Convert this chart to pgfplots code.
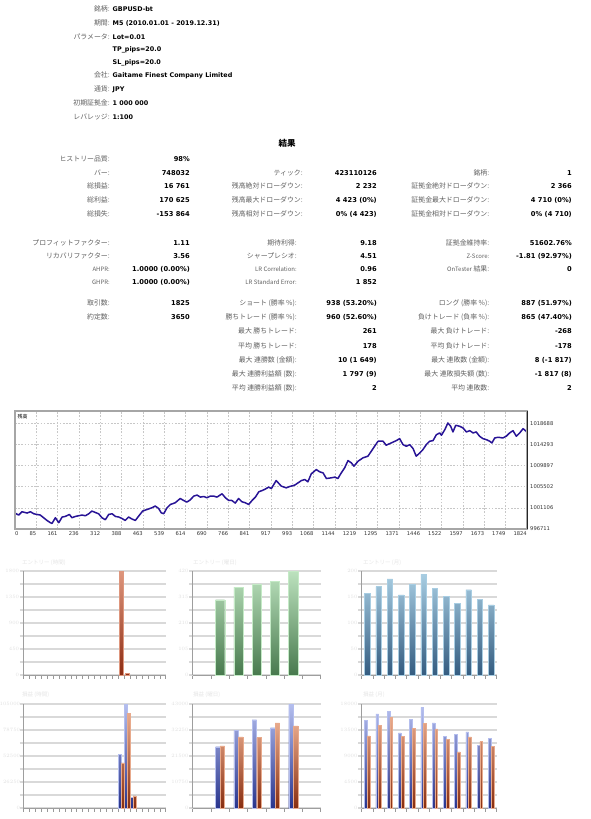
\documentclass[border=0pt]{standalone}
\usepackage{fontspec}
\setmainfont{DejaVu Sans}
\newfontfamily\jp{Noto Sans CJK JP}
\usepackage{pgfplots}
\pgfplotsset{compat=1.18}
\definecolor{labc}{gray}{0.38}
\definecolor{eq}{RGB}{40,20,150}
\definecolor{r1t}{RGB}{222,150,125}
\definecolor{r1b}{RGB}{140,45,20}
\definecolor{g1t}{RGB}{188,226,190}
\definecolor{g1b}{RGB}{72,122,78}
\definecolor{g1d}{RGB}{196,234,198}
\definecolor{s1t}{RGB}{168,205,226}
\definecolor{s1b}{RGB}{52,92,128}
\definecolor{b2t}{RGB}{180,190,238}
\definecolor{b2b}{RGB}{40,52,140}
\definecolor{o2t}{RGB}{232,170,140}
\definecolor{o2b}{RGB}{135,45,15}
\tikzset{
 lab/.style={anchor=east, inner sep=0pt, text height=5pt, text depth=1.4pt, font=\jp\fontsize{6.9}{8}\selectfont, text=labc},
 val/.style={anchor=east, inner sep=0pt, text height=5pt, text depth=1.4pt, font=\bfseries\fontsize{6.7}{8}\selectfont, text=black},
 hval/.style={val, anchor=west, font=\bfseries\fontsize{6.4}{8}\selectfont},
 ctitle/.style={anchor=west, inner sep=0pt, font=\jp\fontsize{5.5}{6}\selectfont, text=black!10},
}
\newcommand\lt[1]{{\fontsize{6}{7}\selectfont #1}}
\pgfplotsset{
 bc/.style={
  scale only axis, height=104pt, ymin=0, clip=false,
  axis x line*=bottom, axis y line*=left,
  axis line style={draw=black!38, line width=0.6pt},
  ymajorgrids, yminorgrids,
  major grid style={draw=black!15, line width=1.7pt},
  minor grid style={draw=black!15, line width=1.7pt},
  tick align=outside, major tick length=3.5pt, minor tick length=3.5pt,
  ytick style={draw=black!15, line width=1.7pt},
  xtick style={draw=black!40, line width=0.5pt},
  xticklabels={},
  tick label style={font=\fontsize{3.8}{4.5}\selectfont, text=black!12},
  yticklabel style={inner sep=0.5pt, /pgf/number format/fixed, /pgf/number format/precision=0, /pgf/number format/1000 sep={}},
  scaled y ticks=false,
 },
}
\begin{document}
\begin{tikzpicture}[x=1pt,y=-1pt]
\path[use as bounding box, fill=white] (0,0) rectangle (590,819);
% ---------- header ----------
\node[lab] at (110,9.5) {銘柄:};          \node[hval] at (112.5,9.5) {GBPUSD-bt};
\node[lab] at (110,23.8) {期間:};         \node[hval] at (112.5,23.8) {M5 (2010.01.01 - 2019.12.31)};
\node[lab] at (110,37.2) {パラメータ:};   \node[hval] at (112.5,37.2) {Lot=0.01};
                                          \node[hval] at (112.5,50) {TP\_pips=20.0};
                                          \node[hval] at (112.5,62.5) {SL\_pips=20.0};
\node[lab] at (110,75.5) {会社:};         \node[hval] at (112.5,75.5) {Gaitame Finest Company Limited};
\node[lab] at (110,89.3) {通貨:};         \node[hval] at (112.5,89.3) {JPY};
\node[lab] at (110,103.3) {初期証拠金:};  \node[hval] at (112.5,103.3) {1 000 000};
\node[lab] at (110,117.3) {レバレッジ:};  \node[hval] at (112.5,117.3) {1:100};
\node[font=\jp\bfseries\fontsize{8.5}{10}\selectfont, inner sep=0pt] at (287,143) {結果};
% ---------- stats ----------
\node[lab] at (110,160) {ヒストリー品質:}; \node[val] at (190,160) {98\%};
\node[lab] at (110,173.5) {バー:}; \node[val] at (190,173.5) {748032};
\node[lab] at (303,173.5) {ティック:}; \node[val] at (377,173.5) {423110126};
\node[lab] at (489.5,173.5) {銘柄:}; \node[val] at (572,173.5) {1};
\node[lab] at (110,187) {総損益:}; \node[val] at (190,187) {16 761};
\node[lab] at (303,187) {残高絶対ドローダウン:}; \node[val] at (377,187) {2 232};
\node[lab] at (489.5,187) {証拠金絶対ドローダウン:}; \node[val] at (572,187) {2 366};
\node[lab] at (110,200.7) {総利益:}; \node[val] at (190,200.7) {170 625};
\node[lab] at (303,200.7) {残高最大ドローダウン:}; \node[val] at (377,200.7) {4 423 (0\%)};
\node[lab] at (489.5,200.7) {証拠金最大ドローダウン:}; \node[val] at (572,200.7) {4 710 (0\%)};
\node[lab] at (110,214.7) {総損失:}; \node[val] at (190,214.7) {-153 864};
\node[lab] at (303,214.7) {残高相対ドローダウン:}; \node[val] at (377,214.7) {0\% (4 423)};
\node[lab] at (489.5,214.7) {証拠金相対ドローダウン:}; \node[val] at (572,214.7) {0\% (4 710)};
%
\node[lab] at (110,243.5) {プロフィットファクター:}; \node[val] at (190,243.5) {1.11};
\node[lab] at (297,243.5) {期待利得:}; \node[val] at (377,243.5) {9.18};
\node[lab] at (489.5,243.5) {証拠金維持率:}; \node[val] at (572,243.5) {51602.76\%};
\node[lab] at (110,256.5) {リカバリファクター:}; \node[val] at (190,256.5) {3.56};
\node[lab] at (297,256.5) {シャープレシオ:}; \node[val] at (377,256.5) {4.51};
\node[lab] at (489.5,256.5) {\lt{Z-Score:}}; \node[val] at (572,256.5) {-1.81 (92.97\%)};
\node[lab] at (110,269.5) {\lt{AHPR:}}; \node[val] at (190,269.5) {1.0000 (0.00\%)};
\node[lab] at (297,269.5) {\lt{LR Correlation:}}; \node[val] at (377,269.5) {0.96};
\node[lab] at (489.5,269.5) {\lt{OnTester} 結果:}; \node[val] at (572,269.5) {0};
\node[lab] at (110,282.5) {\lt{GHPR:}}; \node[val] at (190,282.5) {1.0000 (0.00\%)};
\node[lab] at (297,282.5) {\lt{LR Standard Error:}}; \node[val] at (377,282.5) {1 852};
%
\node[lab] at (110,304) {取引数:}; \node[val] at (190,304) {1825};
\node[lab] at (297,304) {ショート (勝率 \%):}; \node[val] at (377,304) {938 (53.20\%)};
\node[lab] at (489.5,304) {ロング (勝率 \%):}; \node[val] at (572,304) {887 (51.97\%)};
\node[lab] at (110,318) {約定数:}; \node[val] at (190,318) {3650};
\node[lab] at (297,318) {勝ちトレード (勝率 \%):}; \node[val] at (377,318) {960 (52.60\%)};
\node[lab] at (489.5,318) {負けトレード (負率 \%):}; \node[val] at (572,318) {865 (47.40\%)};
\node[lab] at (297,332) {最大 勝ちトレード:}; \node[val] at (377,332) {261};
\node[lab] at (489.5,332) {最大 負けトレード:}; \node[val] at (572,332) {-268};
\node[lab] at (297,346.5) {平均 勝ちトレード:}; \node[val] at (377,346.5) {178};
\node[lab] at (489.5,346.5) {平均 負けトレード:}; \node[val] at (572,346.5) {-178};
\node[lab] at (297,360.5) {最大 連勝数 (金額):}; \node[val] at (377,360.5) {10 (1 649)};
\node[lab] at (489.5,360.5) {最大 連敗数 (金額):}; \node[val] at (572,360.5) {8 (-1 817)};
\node[lab] at (297,374.5) {最大 連勝利益額 (数):}; \node[val] at (377,374.5) {1 797 (9)};
\node[lab] at (489.5,374.5) {最大 連敗損失額 (数):}; \node[val] at (572,374.5) {-1 817 (8)};
\node[lab] at (297,388.5) {平均 連勝利益額 (数):}; \node[val] at (377,388.5) {2};
\node[lab] at (489.5,388.5) {平均 連敗数:}; \node[val] at (572,388.5) {2};
% ---------- equity chart ----------
\begin{axis}[
  at={(15pt,-411pt)}, anchor=north west,
  scale only axis, width=512pt, height=118pt,
  xmin=0, xmax=1825, ymin=996711, ymax=1021240,
  clip=false, axis line style={draw=none},
  scaled y ticks=false, scaled x ticks=false,
  grid=major, major grid style={dash pattern=on 1.6pt off 1.6pt, draw=black!22, line width=0.5pt},
  major tick length=0pt,
  xtick={76.04,152.08,228.13,304.17,380.21,456.25,532.29,608.33,684.38,760.42,836.46,912.5,988.54,1064.58,1140.63,1216.67,1292.71,1368.75,1444.79,1520.83,1596.88,1672.92,1748.96,1825},
  xticklabels={85,161,236,312,388,463,539,614,690,766,841,917,993,1068,1144,1219,1295,1371,1446,1522,1597,1673,1749,1824},
  extra x ticks={0}, extra x tick labels={0},
  extra x tick style={xticklabel style={anchor=north west}},
  xticklabel style={anchor=north east, font=\fontsize{5.2}{6}\selectfont, text=black!80, inner sep=0pt, yshift=-2.5pt},
  ytick={996711,1001106,1005502,1009897,1014293,1018688},
  yticklabels={996711,1001106,1005502,1009897,1014293,1018688},
  yticklabel pos=right,
  yticklabel style={anchor=west, font=\fontsize{5.2}{6}\selectfont, text=black!80, inner sep=0pt, xshift=3pt},
]
\addplot[eq, line width=1.5pt, line join=round] coordinates {
(0,1000000) (13,999614) (25,1000298) (43,1000028) (55,1000298) (67,999883) (78,999738) (90,999614) (102,999054) (114,998494) (126,998017) (132,997872) (144,999054) (156,998017) (168,999199) (179,999323) (194,999738) (203,999054) (215,999323) (227,999468) (239,999614) (251,999468) (263,999883) (274,1000443) (286,1000153) (298,999883) (310,999054) (322,998639) (334,999738) (346,999883) (358,999323) (370,999199) (381,998909) (393,998494) (405,999199) (417,998784) (429,998494) (441,999406) (455,1000443) (471,1000775) (488,1001127) (500,1001480) (512,1000982) (521,1000091) (530,999883) (542,1001127) (554,1001811) (571,1002164) (589,1003055) (601,1002641) (613,1002309) (625,1002786) (637,1003553) (649,1003760) (661,1003346) (673,1003470) (684,1003200) (696,1003553) (708,1003553) (720,1003346) (738,1004030) (750,1003200) (762,1002641) (773,1002641) (785,1002102) (797,1003055) (809,1002371) (821,1002164) (833,1001811) (845,1002641) (857,1003346) (869,1004444) (881,1004714) (892,1005004) (904,1005419) (914,1005129) (931,1006787) (949,1005626) (967,1005274) (979,1005543) (997,1005834) (1009,1006310) (1021,1006787) (1033,1006995) (1044,1006518) (1056,1008176) (1074,1009068) (1086,1008591) (1098,1008384) (1110,1007202) (1127,1007347) (1140,1007492) (1151,1007202) (1163,1008384) (1175,1009420) (1187,1010934) (1199,1010457) (1208,1009773) (1223,1010809) (1240,1011494) (1258,1011846) (1270,1012883) (1282,1013919) (1294,1014956) (1312,1014956) (1323,1014127) (1341,1014604) (1359,1015080) (1371,1015495) (1383,1014251) (1395,1013919) (1407,1014251) (1419,1013422) (1430,1011846) (1443,1012530) (1454,1013214) (1466,1014251) (1478,1014956) (1490,1015080) (1502,1016324) (1514,1016677) (1520,1016200) (1532,1017361) (1543,1018750) (1553,1018066) (1561,1016884) (1571,1018273) (1585,1018066) (1597,1017714) (1609,1016884) (1621,1017154) (1633,1016677) (1644,1016884) (1656,1015993) (1668,1015495) (1680,1015288) (1692,1014956) (1700,1014604) (1710,1015640) (1722,1015785) (1739,1015640) (1751,1015993) (1763,1016677) (1775,1017154) (1787,1015993) (1799,1016677) (1811,1017568) (1822,1017029) (1825,1016761)
};
\draw[black!35, line width=1.3pt] (rel axis cs:0,0) rectangle (rel axis cs:1,1);
\draw[black!85, line width=0.8pt] (rel axis cs:1,0) -- (rel axis cs:1,1);
\node[anchor=north west, inner sep=0pt, font=\jp\fontsize{5}{6}\selectfont] at (rel axis cs:0,1) [xshift=2.5pt, yshift=-3pt] {残高};
\end{axis}
% ---------- bar charts: titles ----------
\node[ctitle] at (22,563) {エントリー (時間)};
\node[ctitle] at (193,563) {エントリー (曜日)};
\node[ctitle] at (363,563) {エントリー (月)};
\node[ctitle] at (22,695) {損益 (時間)};
\node[ctitle] at (193,695) {損益 (曜日)};
\node[ctitle] at (363,695) {損益 (月)};
% chart 1
\begin{axis}[bc, at={(23.3pt,-571pt)}, anchor=north west, width=142.4pt,
  xmin=-0.5, xmax=23.5, xtick={-0.5,0.5,...,23.5}, ymax=1800, ytick={0,450,...,1800}, minor ytick={225,675,...,1575}]
\addplot[ybar, bar width=0.57, bar shift=0pt, draw=r1t, top color=r1t, bottom color=r1b] coordinates {(16,1800) (17,25)};
\end{axis}
% chart 2
\begin{axis}[bc, at={(192.7pt,-571pt)}, anchor=north west, width=128pt,
  xmin=-0.5, xmax=6.5, xtick={-0.5,0.5,...,6.5}, ymax=420, ytick={0,105,...,420}, minor ytick={52.5,157.5,...,367.5}]
\addplot[ybar, bar width=0.5, bar shift=0pt, draw=g1d, top color=g1t, bottom color=g1b] coordinates {(1,304) (2,355) (3,368) (4,378) (5,420)};
\end{axis}
% chart 3
\begin{axis}[bc, at={(361.7pt,-571pt)}, anchor=north west, width=135pt,
  xmin=-0.5, xmax=11.5, xtick={-0.5,0.5,...,11.5}, ymax=200, ytick={0,50,...,200}, minor ytick={25,75,...,175}]
\addplot[ybar, bar width=0.5, bar shift=0pt, draw=s1t, top color=s1t, bottom color=s1b] coordinates {(0,157) (1,170) (2,185) (3,154) (4,174) (5,194) (6,167) (7,151) (8,138) (9,164) (10,145) (11,135)};
\end{axis}
% chart 4
\begin{axis}[bc, at={(23.3pt,-704.3pt)}, anchor=north west, width=142.4pt,
  xmin=-0.5, xmax=23.5, xtick={-0.5,0.5,...,23.5}, ymax=105000, ytick={0,26250,...,105000}, minor ytick={13125,39375,...,91875},
  yticklabel style={font=\fontsize{3.3}{4}\selectfont, xshift=1pt}]
\addplot[ybar, bar width=0.47, bar shift=-0.24, draw=b2t, top color=b2t, bottom color=b2b] coordinates {(16,54800) (17,105000) (18,10800)};
\addplot[ybar, bar width=0.47, bar shift=0.24, draw=o2t, top color=o2t, bottom color=o2b] coordinates {(16,45800) (17,95900) (18,12500)};
\end{axis}
% chart 5
\begin{axis}[bc, at={(192.7pt,-704.3pt)}, anchor=north west, width=128pt,
  xmin=-0.5, xmax=6.5, xtick={-0.5,0.5,...,6.5}, ymax=43000, ytick={0,10750,...,43000}, minor ytick={5375,16125,...,37625}]
\addplot[ybar, bar width=0.245, bar shift=-0.125, draw=b2t, top color=b2t, bottom color=b2b] coordinates {(1,25470) (2,32220) (3,36630) (4,33320) (5,42970)};
\addplot[ybar, bar width=0.245, bar shift=0.125, draw=o2t, top color=o2t, bottom color=o2b] coordinates {(1,25780) (2,29510) (3,29230) (4,35300) (5,34060)};
\end{axis}
% chart 6
\begin{axis}[bc, at={(361.7pt,-704.3pt)}, anchor=north west, width=135pt,
  xmin=-0.5, xmax=11.5, xtick={-0.5,0.5,...,11.5}, ymax=18000, ytick={0,4500,...,18000}, minor ytick={2250,6750,...,15750}]
\addplot[ybar, bar width=0.245, bar shift=-0.125, draw=b2t, top color=b2t, bottom color=b2b] coordinates {(0,15175) (1,16329) (2,16733) (3,13040) (4,15406) (5,17483) (6,14771) (7,12463) (8,12809) (9,13213) (10,10905) (11,12117)};
\addplot[ybar, bar width=0.245, bar shift=0.125, draw=o2t, top color=o2t, bottom color=o2b] coordinates {(0,12521) (1,14310) (2,15752) (3,12463) (4,13790) (5,14714) (6,13733) (7,11944) (8,9751) (9,12348) (10,11540) (11,10732)};
\end{axis}
\end{tikzpicture}
\end{document}
